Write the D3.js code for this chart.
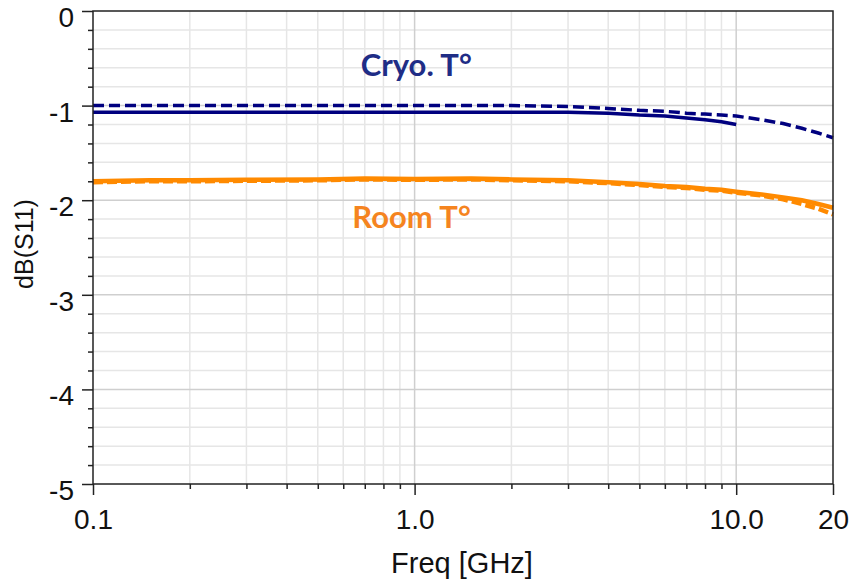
<!DOCTYPE html>
<html>
<head>
<meta charset="utf-8">
<script src="https://cdn.jsdelivr.net/npm/d3@7"></script>
<style>
  html, body { margin: 0; padding: 0; background: #fff; }
  svg { display: block; }
</style>
</head>
<body>
<svg id="chart" width="852" height="585"></svg>
<script>
// ---- data ----
const freqGHz = [0.1, 0.15, 0.2, 0.3, 0.5, 0.7, 1, 1.5, 2, 3, 4, 5, 6, 7, 8, 9, 10, 12, 14, 16, 18, 20];
const cryoDashed = [-1.00, -1.00, -1.00, -1.00, -1.00, -1.00, -1.00, -1.00, -1.00, -1.01, -1.03, -1.05, -1.06, -1.08, -1.09, -1.10, -1.11, -1.15, -1.19, -1.24, -1.29, -1.34];
const cryoSolid = [-1.07, -1.07, -1.07, -1.07, -1.07, -1.07, -1.07, -1.07, -1.07, -1.07, -1.08, -1.10, -1.11, -1.13, -1.15, -1.17, -1.20];
const roomSolid = [-1.80, -1.79, -1.79, -1.785, -1.78, -1.77, -1.775, -1.77, -1.78, -1.79, -1.81, -1.83, -1.85, -1.86, -1.88, -1.89, -1.91, -1.94, -1.97, -2.00, -2.04, -2.08];
const roomDashed = [-1.81, -1.80, -1.80, -1.795, -1.79, -1.78, -1.785, -1.78, -1.79, -1.80, -1.82, -1.84, -1.86, -1.87, -1.89, -1.90, -1.92, -1.95, -1.99, -2.04, -2.09, -2.15];
const xTickValues = [0.1, 1, 10, 20];
const xTickLabels = ["0.1", "1.0", "10.0", "20"];
const yTickValues = [0, -1, -2, -3, -4, -5];
const yTickLabels = ["0", "-1", "-2", "-3", "-4", "-5"];
const annotations = [
  { text: "Cryo. T°", f: 0.68, v: -0.69, color: "#1f2d86" },
  { text: "Room T°", f: 0.64, v: -2.29, color: "#f5841f" }
];

// ---- layout ----
const svg = d3.select("#chart");
const L = 93, R = 833, T = 11, B = 484;
const x = d3.scaleLog().domain([0.1, 20]).range([L, R]);
const y = d3.scaleLinear().domain([-5, 0]).range([B, T]);

// grid
const minorX = [];
[0.1, 1, 10].forEach(d => { for (let k = 2; k <= 9; k++) { const v = d * k; if (v < 20) minorX.push(v); } });
const gx = svg.append("g");
gx.selectAll("line.mx").data(minorX).join("line")
  .attr("x1", d => x(d)).attr("x2", d => x(d)).attr("y1", T).attr("y2", B)
  .attr("stroke", "#e6e6e6").attr("stroke-width", 1.5);
const minorY = d3.range(-50, 1, 2).map(d => d / 10).filter(v => Math.abs(v - Math.round(v)) > 1e-6);
gx.selectAll("line.my").data(minorY).join("line")
  .attr("x1", L).attr("x2", R).attr("y1", d => y(d)).attr("y2", d => y(d))
  .attr("stroke", "#e6e6e6").attr("stroke-width", 1.5);
gx.selectAll("line.Mx").data([1, 10]).join("line")
  .attr("x1", d => x(d)).attr("x2", d => x(d)).attr("y1", T).attr("y2", B)
  .attr("stroke", "#cfcfcf").attr("stroke-width", 1.5);
gx.selectAll("line.My").data([-1, -2, -3, -4]).join("line")
  .attr("x1", L).attr("x2", R).attr("y1", d => y(d)).attr("y2", d => y(d))
  .attr("stroke", "#cfcfcf").attr("stroke-width", 1.5);

// curves
const lineGen = d3.line().x(d => x(d[0])).y(d => y(d[1]));
function draw(vals, color, width, dash) {
  const pts = vals.map((v, i) => [freqGHz[i], v]);
  const p = svg.append("path").datum(pts).attr("d", lineGen)
    .attr("fill", "none").attr("stroke", color).attr("stroke-width", width);
  if (dash) p.attr("stroke-dasharray", dash);
}
draw(roomSolid, "#ff8a00", 4.5, null);
draw(roomDashed, "#ff8a00", 4.5, "10,4");
draw(cryoSolid, "#00007f", 3.5, null);
draw(cryoDashed, "#00007f", 3.5, "11,5");

// frame
svg.append("rect").attr("x", L).attr("y", T).attr("width", R - L).attr("height", B - T)
  .attr("fill", "none").attr("stroke", "#222").attr("stroke-width", 1.5);

// axes ticks
const font = "'Liberation Sans', Arial, sans-serif";
const yAxis = d3.axisLeft(y).tickValues(yTickValues).tickSize(11)
  .tickFormat((d, i) => yTickLabels[i]);
const ya = svg.append("g").attr("transform", `translate(${L},0)`).call(yAxis);
ya.select(".domain").remove();
ya.selectAll("line").attr("stroke", "#222").attr("stroke-width", 1.5);
ya.selectAll("text").attr("font-family", font).attr("font-size", 28).attr("fill", "#111")
  .attr("x", -19).attr("dy", "0.55em");
const yMinor = svg.append("g").attr("transform", `translate(${L},0)`)
  .call(d3.axisLeft(y).tickValues(minorY).tickSize(5).tickFormat(""));
yMinor.select(".domain").remove();
yMinor.selectAll("line").attr("stroke", "#222").attr("stroke-width", 1.5);

const xAxis = d3.axisBottom(x).tickValues(xTickValues).tickSize(11)
  .tickFormat((d, i) => xTickLabels[i]);
const xa = svg.append("g").attr("transform", `translate(0,${B})`).call(xAxis);
xa.select(".domain").remove();
xa.selectAll("line").attr("stroke", "#222").attr("stroke-width", 1.5);
xa.selectAll("text").attr("font-family", font).attr("font-size", 28).attr("fill", "#111")
  .attr("y", 25);
const xMinor = svg.append("g").attr("transform", `translate(0,${B})`)
  .call(d3.axisBottom(x).tickValues(minorX).tickSize(5).tickFormat(""));
xMinor.select(".domain").remove();
xMinor.selectAll("line").attr("stroke", "#222").attr("stroke-width", 1.5);

// axis titles
svg.append("text").attr("x", 462).attr("y", 573).attr("text-anchor", "middle")
  .attr("font-family", font).attr("font-size", 29).attr("fill", "#111").text("Freq [GHz]");
svg.append("text").attr("transform", "translate(33,244) rotate(-90)").attr("text-anchor", "middle")
  .attr("font-family", font).attr("font-size", 25).attr("fill", "#111").text("dB(S11)");

// annotations
svg.selectAll("text.ann").data(annotations).join("text")
  .attr("x", d => x(d.f)).attr("y", d => y(d.v))
  .attr("font-family", "Lato, 'Open Sans', sans-serif").attr("font-weight", "bold")
  .attr("font-size", 31).attr("fill", d => d.color).text(d => d.text);
</script>
</body>
</html>
